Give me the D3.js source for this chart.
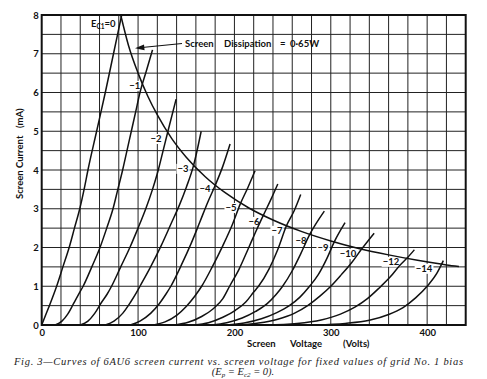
<!DOCTYPE html>
<html><head><meta charset="utf-8">
<script src="https://cdn.jsdelivr.net/npm/d3@7/dist/d3.min.js"></script>
<style>body{margin:0;background:#fff}svg{display:block}</style>
</head><body><svg id="c" width="487" height="379"></svg>
<script>
// ---- data (screen voltage V, screen current mA) ----
const biasValues = [0, -1, -2, -3, -4, -5, -6, -7, -8, -9, -10, -12, -14];
const e0  = [[0,0],[4,0.25],[8,0.5],[15.5,1],[22,1.5],[28.5,2],[34,2.5],[39.5,3],[44,3.5],[48,4],[57,5],[66,6],[74.5,7],[83,8]];
const e1  = [[14,0],[21,0.1],[27,0.28],[33,0.55],[38,0.78],[43,1],[52,1.5],[60.5,2],[67.5,2.5],[74,3],[79,3.5],[84,4],[88.5,4.5],[93,5],[97.5,5.5],[102,6],[108.5,6.55],[115,7.1]];
const e2  = [[40,0],[48,0.1],[55,0.3],[62,0.58],[68,0.8],[72.5,1],[82,1.5],[91.5,2],[100,2.5],[108,3],[115,3.5],[121,4],[126,4.5],[131,5],[139.5,5.83]];
const e3  = [[66,0],[75,0.1],[84,0.3],[92,0.58],[98,0.82],[102,1],[113,1.5],[124,2.05],[134,2.6],[143,3.1],[150,3.55],[157.4,4.1],[165.5,5]];
const e4  = [[92,0],[102,0.1],[113,0.3],[122,0.55],[129,0.8],[134,1],[145,1.55],[155,2.1],[164,2.65],[172,3.15],[180,3.6],[188,4.1],[195.5,4.67]];
const e5  = [[116,0],[128,0.08],[140,0.25],[150,0.48],[159,0.75],[166,1],[177,1.5],[188,2.05],[198,2.6],[206,3.12],[214,3.55],[221.4,3.98]];
const e6  = [[138,0],[152,0.07],[166,0.22],[178,0.42],[188,0.68],[195,1],[205,1.45],[214,1.95],[222,2.4],[230,2.83],[238,3.25],[245,3.64]];
const e7  = [[158,0],[173,0.06],[188,0.2],[201,0.38],[212,0.6],[220,0.85],[225,1],[236,1.45],[245,1.95],[254,2.56],[262,2.95],[268.8,3.37]];
const e8  = [[176,0],[192,0.06],[208,0.18],[222,0.35],[234,0.55],[243,0.78],[250,1],[260,1.4],[269,1.85],[278,2.33],[293.3,2.94]];
const e9  = [[192,0],[210,0.05],[228,0.16],[244,0.32],[257,0.5],[268,0.72],[278,1],[287,1.3],[296,1.72],[303.5,2.14],[314.8,2.64]];
const e10 = [[206,0],[225,0.05],[245,0.15],[262,0.3],[276,0.5],[289,0.75],[300,1],[311,1.3],[322,1.62],[332,1.96],[345,2.37]];
const e12 = [[232,0],[265,0.04],[290,0.13],[310,0.28],[325,0.46],[338,0.68],[350,0.95],[362,1.25],[372,1.55],[380,1.75],[386.7,1.94]];
const e14 = [[285,0],[315,0.04],[340,0.12],[360,0.27],[375,0.45],[388,0.7],[400,1],[410,1.33],[416.8,1.66]];
const dissipation = [[82,8],[90,7.22],[100,6.5],[110,5.91],[120,5.42],[135,4.81],[150,4.33],[170,3.82],[190,3.42],[215,3.02],[240,2.71],[270,2.41],[300,2.17],[330,1.97],[360,1.81],[390,1.67],[420,1.55],[433,1.51]];
const labelText = ["\u22121","\u22122","\u22123","\u22124","\u22125","\u22126","\u22127","\u22128","\u22129","\u221210","\u221212","\u221214"];
const labelV = [96.5,118.6,146.6,169.5,196.5,220.3,244.2,269.1,292,317.9,362.5,396.8];
const labelI = [6.17,4.8,4.03,3.51,3.02,2.66,2.43,2.17,1.99,1.83,1.63,1.45];
const xTicks = [0,100,200,300,400];
const yTicks = [0,1,2,3,4,5,6,7,8];

// ---- drawing ----
const series = [e0,e1,e2,e3,e4,e5,e6,e7,e8,e9,e10,e12,e14];
const svg = d3.select("#c");
svg.append("rect").attr("width",487).attr("height",379).attr("fill","#fff");
const x = d3.scaleLinear().domain([0,440]).range([41.7,465.7]);
const y = d3.scaleLinear().domain([0,8]).range([325,15]);
const sans = "Lato, 'DejaVu Sans', sans-serif";

const grid = svg.append("g").attr("stroke","#222").attr("stroke-width",1);
grid.selectAll("line.v").data(d3.range(20,440,20)).join("line")
  .attr("x1",d=>x(d)).attr("x2",d=>x(d)).attr("y1",y(0)).attr("y2",y(8));
grid.selectAll("line.h").data(d3.range(0.5,8,0.5)).join("line")
  .attr("y1",d=>y(d)).attr("y2",d=>y(d)).attr("x1",x(0)).attr("x2",x(440));

// curve labels with white backgrounds
const lab = svg.append("g").attr("font-family",sans).attr("font-size",9.5).attr("font-weight",700).attr("fill","#111");
labelText.forEach((t,i)=>{
  const cx = x(labelV[i]), cy = y(labelI[i]);
  const w = t.length*5.6+2;
  lab.append("rect").attr("x",cx-w/2).attr("y",cy-5).attr("width",w).attr("height",10).attr("fill","#fff");
  lab.append("text").attr("x",cx).attr("y",cy).attr("dy","0.35em").attr("text-anchor","middle").text(t);
});

// frame
svg.append("rect").attr("x",x(0)).attr("y",y(8)).attr("width",x(440)-x(0)).attr("height",y(0)-y(8))
  .attr("fill","none").attr("stroke","#111").attr("stroke-width",2);

const line = d3.line().x(d=>x(d[0])).y(d=>y(d[1])).curve(d3.curveMonotoneX);
svg.append("g").selectAll("path").data(series).join("path")
  .attr("d",line).attr("fill","none").attr("stroke","#111").attr("stroke-width",1.5);
svg.append("path").attr("d",line(dissipation)).attr("fill","none").attr("stroke","#111").attr("stroke-width",1.5);

// E_C1 = 0 label
const ec = svg.append("text").attr("x",x(63.6)-12).attr("y",y(7.77)).attr("dy","0.35em")
  .attr("font-family",sans).attr("font-size",9.5).attr("font-weight",700).attr("fill","#111");
ec.append("tspan").text("E");
ec.append("tspan").attr("font-size",6.5).attr("dy",2).text("C1");
ec.append("tspan").attr("dy",-2).text("=" + biasValues[0]);

// dissipation annotation
const ann = svg.append("g").attr("font-family",sans).attr("font-size",9.5).attr("font-weight",700).attr("fill","#111");
[["Screen",185],["Dissipation",224],["=",280],["0\u00b765W",290]].forEach(([t,px])=>{
  ann.append("text").attr("x",px).attr("y",44).attr("dy","0.35em").text(t);
});
svg.append("line").attr("x1",182).attr("y1",43.5).attr("x2",142).attr("y2",47.5).attr("stroke","#111").attr("stroke-width",1.2);
svg.append("path").attr("d","M135,48.3 L144,44.6 L144.6,50.2 Z").attr("fill","#111");

// axes
const ax = svg.append("g").attr("transform",`translate(0,${y(0)})`)
  .call(d3.axisBottom(x).tickValues(xTicks).tickSize(0).tickPadding(4).tickFormat(d3.format("d")));
ax.select(".domain").remove();
ax.selectAll("text").attr("font-family",sans).attr("font-size",9.5).attr("font-weight",700).attr("fill","#111");
const ay = svg.append("g").attr("transform",`translate(${x(0)},0)`)
  .call(d3.axisLeft(y).tickValues(yTicks).tickSize(0).tickPadding(3).tickFormat(d3.format("d")));
ay.select(".domain").remove();
ay.selectAll("text").attr("font-family",sans).attr("font-size",9.5).attr("font-weight",700).attr("fill","#111");

// axis titles
const xt = svg.append("g").attr("font-family",sans).attr("font-size",9.5).attr("font-weight",700).attr("fill","#111");
[["Screen",247],["Voltage",290],["(Volts)",343]].forEach(([t,px])=>xt.append("text").attr("x",px).attr("y",347).text(t));
const yt = svg.append("g").attr("transform","translate(23,0) rotate(-90)").attr("font-family",sans).attr("font-size",9.5).attr("font-weight",700).attr("fill","#111");
[["Screen",-199],["Current",-168],["(mA)",-128]].forEach(([t,py])=>yt.append("text").attr("x",py).attr("y",0).text(t));

// caption
const serif = "'Liberation Serif', 'DejaVu Serif', serif";
svg.append("text").attr("x",14).attr("y",365).attr("font-family",serif).attr("font-style","italic").attr("font-size",10.5).attr("fill","#222")
  .attr("textLength",449).attr("lengthAdjust","spacing")
  .text("Fig. 3\u2014Curves of 6AU6 screen current vs. screen voltage  for  fixed  values  of  grid  No.  1  bias");
const c2 = svg.append("text").attr("x",243).attr("y",375).attr("text-anchor","middle").attr("font-family",serif).attr("font-style","italic").attr("font-size",10.5).attr("fill","#222");
c2.append("tspan").text("(E");
c2.append("tspan").attr("font-size",7).attr("dy",1.5).text("p");
c2.append("tspan").attr("dy",-1.5).text(" = E");
c2.append("tspan").attr("font-size",7).attr("dy",1.5).text("c2");
c2.append("tspan").attr("dy",-1.5).text(" = 0).");
</script></body></html>
